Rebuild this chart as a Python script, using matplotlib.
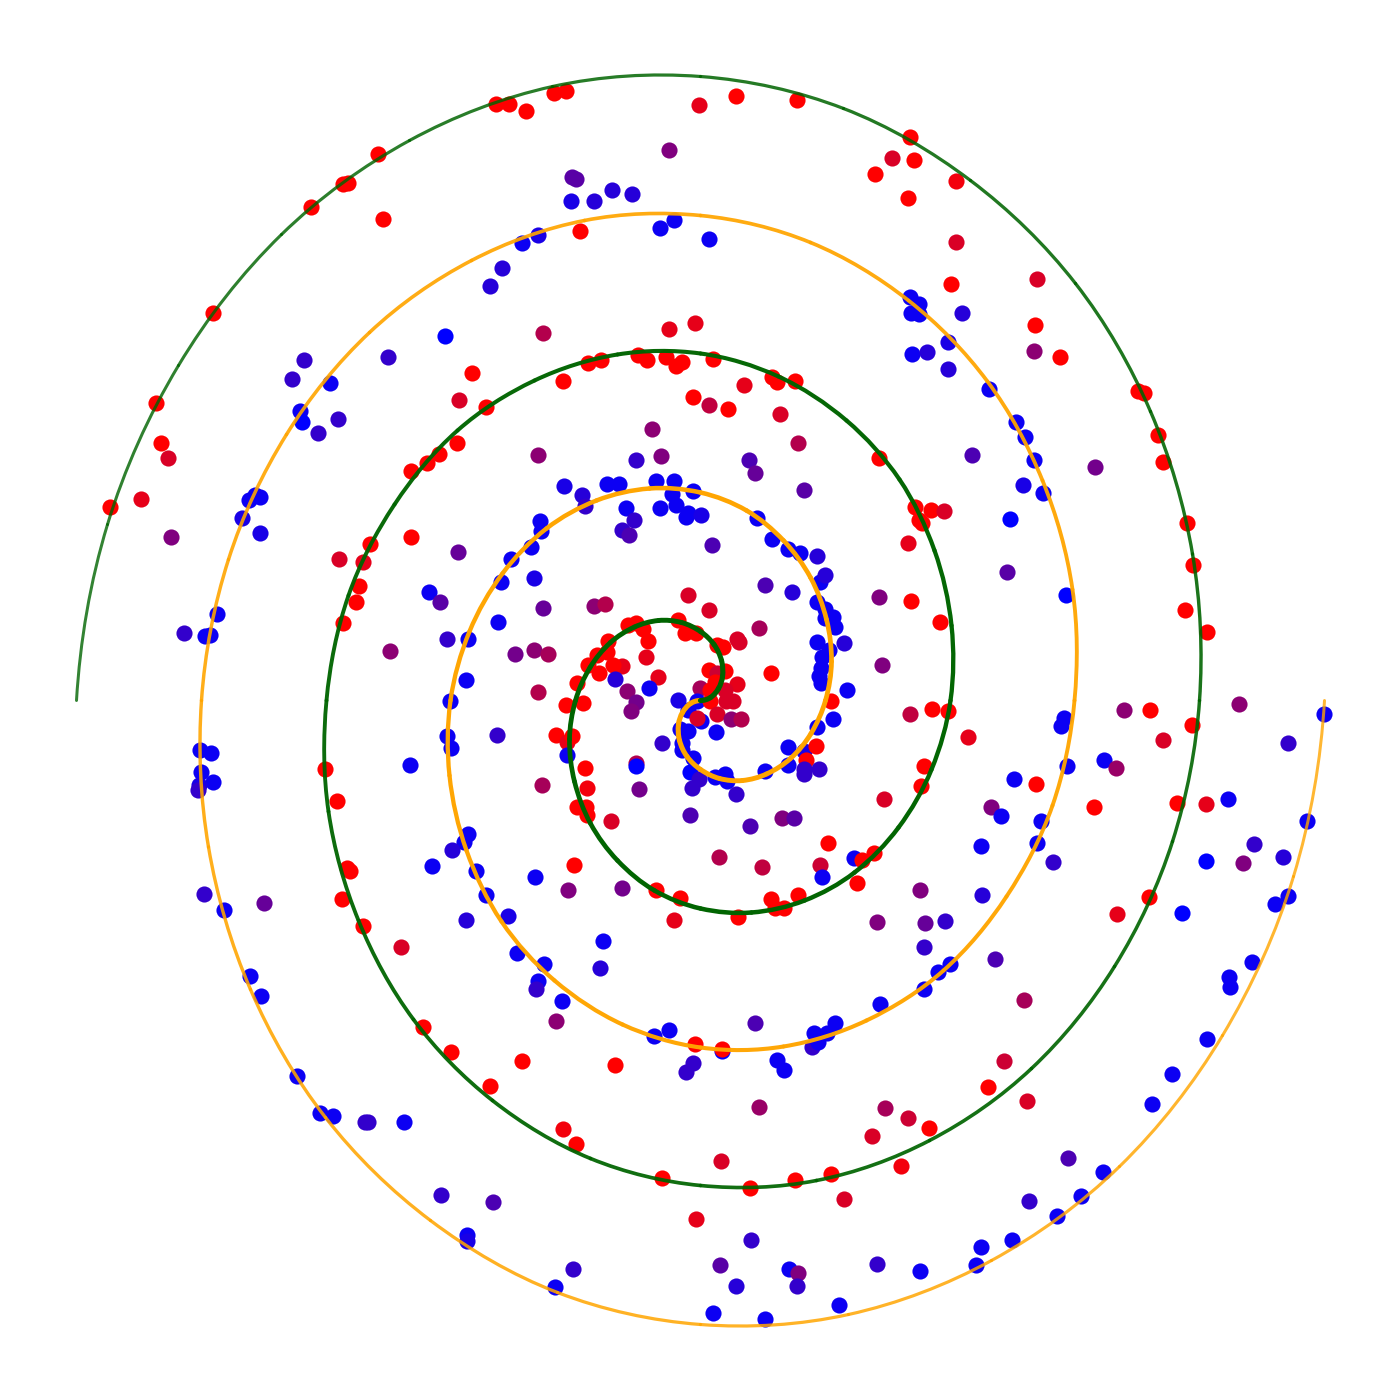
import numpy as np
import matplotlib
matplotlib.use("Agg")
import matplotlib.pyplot as plt
from matplotlib.collections import PathCollection
from matplotlib.colors import LinearSegmentedColormap, to_rgb
from matplotlib.path import Path

# spiral outlines, one point every 15 degrees, inner end first
green_curve = [
    (700,700),(710,697),(718,688),(722,676),(721,660),(713.5,644),(700,631),(681,622),(658,620),(634,626.5),
    (610,642),(589.5,667),(575,700),(569,739),(574,781),(590,823),(617,860),(654,890),(700,908),(751,912),
    (804,900),(854,872),(898,827),(931,769),(950,700),(951,625),(934,550),(899,479),(846,420),(778,376),
    (700,353),(617,354),(534,380),(457,430),(394,504),(348,595),(326,700),(328,811),(358,920),(413,1019),
    (492,1100),(590,1158),(700,1185),(816,1180),(929,1140),(1031,1068),(1114,966),(1172,841),(1199,700),(1192,553.5),
    (1150,411),(1075,283),(970,180),(843,108),(700,76),(552,86),(409,140),(281,234),(178,365),(107,524),
    (76,700),
]
orange_curve = [
    (700,700),(690,703),(682,712),(678,724),(679,740),(686.5,756),(700,769),(719,778),(742,780),(766,773.5),
    (790,758),(810.5,733),(825,700),(831,661),(826,619),(810,577),(783,540),(746,510),(700,492),(649,488),
    (596,500),(546,528),(502,573),(469,631),(450,700),(449,775),(466,850),(501,921),(554,980),(622,1024),
    (700,1047),(783,1046),(866,1020),(943,970),(1006,896),(1052,805),(1074,700),(1072,589),(1042,480),(987,381),
    (908,300),(810,242),(700,215),(584,220),(471,260),(369,332),(286,434),(228,559),(201,700),(208,846.5),
    (250,989),(325,1117),(430,1220),(557,1292),(700,1324),(848,1314),(991,1260),(1119,1166),(1222,1035),(1293,876),
    (1324,700),
]

# points: x, y, colour value (0 blue .. 1 red)
top_left = [
    (110,507,1),(141,499,.9),(161,443,1),(168,458,.85),(171,537,.5),(156,403,1),(213,313,1),(311,207,1),(343,184,1),(348,183,1),
    (378,154,1),(383,219,1),(496,104,1),(509,104,1),(526,111,1),(554,93,1),(566,91,1),(669,150,.5),(699,105,.9),(572,177,.35),
    (576,179,.35),(571,201,.1),(594,201,.15),(612,190,.15),(632,194,.15),(660,228,.05),(674,220,.05),(580,231,1),(538,235,.1),(522,243,.05),
    (502,268,.15),(490,286,.15),(445,336,0),(388,357,.2),(543,333,.7),(304,360,.2),(292,379,.2),(330,383,.05),(300,411,.05),(302,422,0),
    (318,433,.2),(338,419,.2),(472,373,1),(459,400,.85),(486,407,1),(563,381,1),(588,363,1),(601,360,1),(638,355,1),(647,360,1),
    (666,357,1),(676,366,1),(682,362,1),(669,329,.9),(695,323,.9),(693,397,1),(652,429,.55),(538,455,.55),(661,456,.5),(636,460,.2),
    (457,443,1),(439,454,1),(427,463,1),(411,471,1),(564,486,.1),(582,495,.15),(585,506,.2),(607,484,.05),(619,484,.05),(656,481,.05),
    (674,481,.05),(672,494,.05),(693,491,.05),(676,505,.05),(626,508,.05),(634,520,.2),(660,508,.05),(686,517,.05),(688,513,.05),(701,515,.1),
    (622,530,.2),(629,535,.3),(540,521,.05),(541,531,.05),(531,547,.05),(511,559,.05),(534,578,.1),(501,582,.05),(458,552,.4),(411,537,1),
    (339,559,.85),(363,562,.9),(370,544,1),(359,586,1),(356,602,1),(343,623,1),(255,495,.05),(249,500,.05),(260,497,.05),(242,518,.1),
    (260,533,.1),(217,614,.05),(184,633,.2),(205,636,.05),(210,635,.05),(429,592,.05),(440,602,.35),(390,651,.55),(447,639,.2),(468,639,.05),
    (498,622,.05),(515,654,.45),(534,650,.55),(548,654,.65),(543,608,.4),(594,606,.55),(605,604,.7),(466,680,.05),(450,701,.05),(538,692,.7),
]
center = [
    (688,595,.85),(709,610,.85),(765,585,.3),(792,592,.15),(628,625,1),(636,623,1),(643,629,1),(648,641,1),(646,657,.9),(608,641,1),
    (607,652,1),(597,655,1),(588,665,1),(599,673,1),(622,666,.9),(613,665,1),(615,679,.15),(658,677,.9),(649,688,.05),(627,691,.55),
    (636,702,.45),(631,711,.5),(577,683,1),(583,703,1),(566,705,1),(678,620,1),(685,633,1),(696,633,1),(717,645,1),(723,647,1),
    (737,639,.85),(739,642,.85),(759,628,.65),(709,670,1),(725,671,1),(717,673,.8),(700,688,.65),(710,690,1),(737,684,.9),(725,690,.85),
    (715,682,1),(678,700,.1),(697,701,.05),(710,701,1),(726,701,.85),(733,701,.85),(717,714,.85),(731,719,.55),(741,719,.7),(688,710,.05),
    (701,721,.05),(697,718,.85),(680,729,.05),(688,731,.05),(716,732,.05),(662,743,.2),(682,743,.05),(682,750,.05),(693,758,.05),(690,772,0),
    (699,779,.2),(692,788,.2),(715,777,.05),(725,774,.05),(727,781,.05),(736,794,.2),(765,771,.05),(788,765,.05),(788,747,.05),(804,751,.1),
    (816,746,1),(806,760,1),(804,769,.2),(804,774,.2),(819,769,.2),(817,727,.05),(833,719,.05),(831,701,1),(847,690,.05),(821,683,.05),
    (819,676,.05),(821,668,.05),(822,657,.05),(829,650,.05),(817,642,.05),(844,643,.15),(835,627,.05),(833,617,.05),(825,618,.05),(825,609,.05),
    (817,602,.05),(820,582,.05),(825,575,.15),(771,673,1),(585,768,1),(587,788,.95),(577,807,1),(586,807,1),(587,815,1),(611,821,.85),
    (556,735,1),(567,742,.9),(572,736,1),(567,755,.05),(636,763,.7),(636,766,0),(639,789,.45),(690,815,.3),(782,818,.5),(794,818,.35),
    (750,826,.3),(542,785,.65),
]
top_right = [
    (736,96,1),(797,100,1),(910,137,1),(892,158,.85),(914,160,1),(875,174,1),(956,181,.95),(908,198,1),(956,242,.85),(709,239,.05),
    (1037,279,.85),(951,284,1),(910,297,.05),(919,304,.05),(911,313,.05),(919,314,.05),(962,313,.15),(1035,325,1),(948,342,.1),(912,354,.05),
    (927,352,.15),(1034,351,.55),(1060,357,1),(948,369,.15),(713,359,1),(709,405,.75),(728,409,1),(744,385,.9),(772,377,1),(777,382,1),
    (795,381,1),(780,414,.85),(798,443,.7),(989,389,.05),(1016,422,.05),(1025,437,.05),(1034,460,.05),(1138,391,1),(1144,393,1),(1158,435,1),
    (1163,462,1),(879,458,1),(749,460,.3),(755,473,.4),(804,490,.35),(972,455,.3),(1095,467,.45),(1023,485,.1),(1043,493,.05),(1010,519,0),
    (1187,523,1),(915,507,1),(931,510,1),(944,511,.85),(919,520,1),(922,523,1),(908,543,.9),(757,518,.05),(712,545,.3),(772,539,.05),
    (788,549,.05),(800,553,.05),(817,556,.15),(1007,572,.35),(1193,565,1),(1066,595,0),(879,597,.5),(911,601,1),(1185,610,1),(1207,632,1),
    (940,622,1),(882,665,.5),
]
bottom_right = [
    (1324,714,.05),(1239,704,.55),(1124,710,.55),(1150,710,1),(1192,725,1),(910,714,.75),(932,709,1),(948,711,1),(968,737,.9),(1064,718,.05),
    (1061,726,.05),(1163,740,.85),(1288,743,.2),(1104,760,.05),(1116,768,.6),(1067,766,.05),(1014,779,.05),(1036,784,1),(924,766,1),(921,786,1),
    (884,799,.85),(991,807,.5),(1001,816,.05),(1094,807,1),(1177,803,1),(1206,804,.9),(1228,799,.05),(1041,821,.05),(1307,821,.05),(1037,843,.05),
    (981,846,.05),(828,843,1),(1254,844,.2),(1283,857,.15),(1243,863,.5),(1206,861,0),(1053,862,.2),(854,858,.05),(862,860,1),(874,853,1),
    (820,865,.8),(822,877,.05),(719,857,.7),(762,867,.75),(857,883,1),(920,890,.5),(982,895,.15),(1149,897,1),(1288,896,.05),(1275,904,.05),
    (1117,914,.9),(1182,913,0),(798,895,1),(771,899,1),(775,908,1),(784,908,1),(738,917,1),(877,922,.5),(925,923,.4),(945,921,.2),
    (924,947,.2),(995,959,.3),(950,964,.05),(938,972,.05),(924,989,.05),(1252,962,.05),(1229,977,.05),(1230,987,.05),(1024,1000,.65),(880,1004,.05),
    (1207,1039,.05),(755,1023,.3),(835,1023,.05),(814,1033,.05),(827,1033,.05),(812,1047,.2),(818,1042,.05),(722,1051,0),(722,1049,1),(777,1060,.05),
    (784,1070,.05),(1004,1061,.8),(988,1087,1),(1172,1074,.05),(1152,1104,.05),(1027,1101,.85),(759,1107,.6),(885,1108,.65),(908,1118,.8),(929,1128,1),
    (872,1136,.85),(1068,1158,.3),(1103,1172,.05),(1081,1196,.05),(1029,1201,.2),(1057,1216,.05),(721,1161,.85),(901,1166,.95),(831,1174,1),(795,1180,1),
    (750,1188,1),(844,1199,.85),(981,1247,.05),(1012,1240,.05),(976,1265,.05),(751,1240,.2),(720,1265,.35),(877,1264,.2),(920,1271,.05),(789,1269,.05),
    (798,1273,.5),(736,1286,.15),(797,1286,.2),(839,1305,.05),(713,1313,.05),(765,1319,.05),(696,1219,.9),
]
bottom_left = [
    (200,750,.05),(211,753,.05),(201,772,.05),(213,782,.05),(199,785,.1),(198,790,.2),(325,769,1),(337,801,1),(410,765,.05),(447,736,.05),
    (451,748,.05),(497,735,.2),(468,834,.05),(464,842,.05),(452,850,.15),(432,866,.05),(476,871,.05),(347,868,1),(350,871,1),(535,877,.05),
    (574,865,1),(568,890,.5),(622,888,.45),(656,890,1),(680,898,1),(674,920,.9),(486,895,.05),(342,899,1),(204,894,.2),(224,910,.05),
    (264,903,.4),(363,926,1),(466,920,.15),(508,916,.1),(401,947,.85),(603,941,.05),(517,953,.05),(544,964,.05),(600,968,.15),(250,976,.05),
    (261,996,.05),(538,981,.05),(536,989,.2),(562,1001,.05),(556,1021,.55),(423,1027,1),(451,1052,1),(522,1061,1),(615,1065,1),(654,1036,.05),
    (669,1030,.05),(695,1044,1),(686,1072,.2),(693,1063,.2),(490,1086,1),(297,1076,.05),(320,1113,.05),(333,1116,.05),(365,1122,.2),(368,1122,.2),
    (404,1122,.05),(563,1129,.95),(576,1144,1),(662,1178,1),(441,1195,.2),(493,1202,.3),(467,1235,.05),(467,1241,.1),(573,1269,.2),(555,1287,.05),
]

pts = np.array(top_left + center + top_right + bottom_right + bottom_left, dtype=float)

blue_red = LinearSegmentedColormap.from_list("blue_red", ["#0000ff", "#ff0000"])

fig = plt.figure(figsize=(14, 14), dpi=100)
ax = fig.add_axes([0, 0, 1, 1])
ax.set_xlim(-0.5, 1399.5)
ax.set_ylim(1399.5, -0.5)
ax.axis("off")

ax.scatter(pts[:, 0], pts[:, 1], c=pts[:, 2], cmap=blue_red, vmin=0, vmax=1, s=135, linewidths=0, zorder=2)


def spiral(curve, color, z):
    # smooth bezier through the read points, thinner and paler towards the outer end
    c = np.array(curve, dtype=float)
    tang = np.gradient(c, axis=0, edge_order=2)
    tang = tang / np.linalg.norm(tang, axis=1, keepdims=True)
    paths = []
    for i in range(len(c) - 1):
        d = np.linalg.norm(c[i + 1] - c[i]) / 3
        verts = [c[i], c[i] + tang[i] * d, c[i + 1] - tang[i + 1] * d, c[i + 1]]
        paths.append(Path(verts, [Path.MOVETO, Path.CURVE4, Path.CURVE4, Path.CURVE4]))
    f = np.linspace(0, 1, len(paths))
    widths = (5.2 - 2.2 * f) * 0.72
    r, g, b = to_rgb(color)
    cols = [(r, g, b, 1 - 0.2 * v ** 3) for v in f]
    pc = PathCollection(paths, facecolors="none", edgecolors=cols, linewidths=widths, capstyle="round",
                        zorder=z, transform=ax.transData)
    ax.add_collection(pc)


spiral(orange_curve, "#ffa500", 3)
spiral(green_curve, "#006400", 4)

plt.savefig("out.png", dpi=100)
